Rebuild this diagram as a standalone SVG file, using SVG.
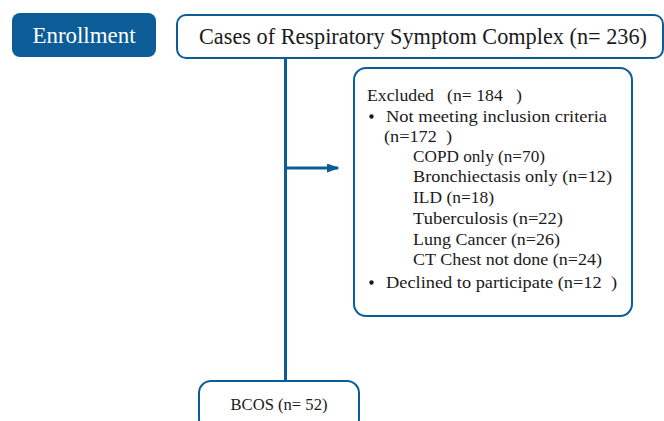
<svg xmlns="http://www.w3.org/2000/svg" width="664" height="421" viewBox="0 0 664 421">
<style>
.box{fill:#fff;stroke:#0b5c97;stroke-width:2}
.t{font-family:"Liberation Serif","DejaVu Serif",serif;fill:#1a1a1a}
.big{font-size:22.5px}
.sm{font-size:17.5px}
.con{stroke:#0b5c97;stroke-width:3;fill:none}
</style>
<defs>
<marker id="ah" markerWidth="4.2" markerHeight="3" refX="3.7" refY="1.5" orient="auto" markerUnits="strokeWidth">
<path d="M0,0 L4.2,1.5 L0,3 Z" fill="#0b5c97"/>
</marker>
</defs>
<rect width="664" height="421" fill="#fff"/>
<g id="connectors">
<line class="con" x1="285.5" y1="58" x2="285.5" y2="381"/>
<line class="con" x1="285.5" y1="168" x2="338" y2="168" marker-end="url(#ah)"/>
</g>
<g id="enrollment">
<rect x="12" y="13" width="144" height="44" rx="8" fill="#0b5c97"/>
<text class="t big" x="84" y="43" text-anchor="middle" style="fill:#fff" textLength="103" lengthAdjust="spacingAndGlyphs">Enrollment</text>
</g>
<g id="cases">
<rect class="box" x="177" y="15" width="486" height="43" rx="9"/>
<text class="t big" x="199" y="44" textLength="448" lengthAdjust="spacingAndGlyphs">Cases of Respiratory Symptom Complex (n= 236)</text>
</g>
<g id="excluded">
<rect class="box" x="354" y="68" width="278" height="248" rx="12"/>
<text class="t sm" x="367" y="101" textLength="155" lengthAdjust="spacingAndGlyphs" xml:space="preserve">Excluded   (n= 184   )</text>
<circle cx="371.5" cy="116.5" r="2.2" fill="#1a1a1a"/>
<text class="t sm" x="386" y="122" textLength="221" lengthAdjust="spacingAndGlyphs">Not meeting inclusion criteria</text>
<text class="t sm" x="384" y="142" textLength="68" lengthAdjust="spacingAndGlyphs" xml:space="preserve">(n=172  )</text>
<text class="t sm" x="413" y="162" textLength="132" lengthAdjust="spacingAndGlyphs">COPD only (n=70)</text>
<text class="t sm" x="413" y="182" textLength="199" lengthAdjust="spacingAndGlyphs">Bronchiectasis only (n=12)</text>
<text class="t sm" x="413" y="203" textLength="81" lengthAdjust="spacingAndGlyphs">ILD (n=18)</text>
<text class="t sm" x="413" y="224" textLength="150" lengthAdjust="spacingAndGlyphs">Tuberculosis (n=22)</text>
<text class="t sm" x="413" y="245" textLength="147" lengthAdjust="spacingAndGlyphs">Lung Cancer (n=26)</text>
<text class="t sm" x="413" y="265" textLength="189" lengthAdjust="spacingAndGlyphs">CT Chest not done (n=24)</text>
<circle cx="371.5" cy="282.5" r="2.2" fill="#1a1a1a"/>
<text class="t sm" x="386" y="288" textLength="231" lengthAdjust="spacingAndGlyphs" xml:space="preserve">Declined to participate (n=12  )</text>
</g>
<g id="bcos">
<rect class="box" x="199" y="381" width="160" height="50" rx="12"/>
<text class="t sm" x="279" y="410" text-anchor="middle" textLength="97" lengthAdjust="spacingAndGlyphs">BCOS (n= 52)</text>
</g>
</svg>
